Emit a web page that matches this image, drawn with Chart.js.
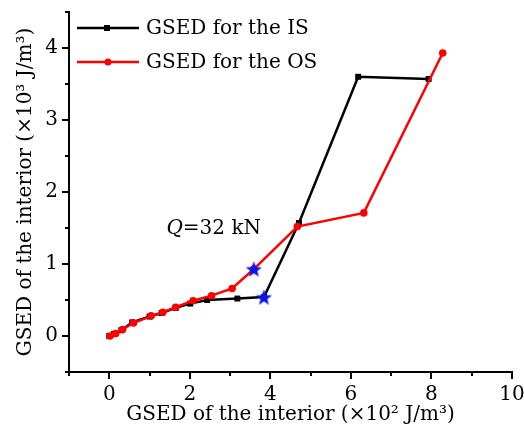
<!DOCTYPE html>
<html>
<head>
<meta charset="utf-8">
<script src="https://cdn.jsdelivr.net/npm/chart.js@4/dist/chart.umd.min.js"></script>
<style>
  body { margin: 0; background: #fff; }
  #wrap { width: 524px; height: 435px; }
</style>
</head>
<body>
<div id="wrap"><canvas id="gsedChart" width="524" height="435"></canvas></div>
<script>
// GSED of the inner surface (IS) and outer surface (OS) vs the interior
var isX = [0, 0.12, 0.3, 0.57, 1.0, 1.3, 1.65, 2.01, 2.43, 3.18, 3.84, 4.71, 6.18, 7.93];
var isY = [0, 0.03, 0.08, 0.19, 0.27, 0.32, 0.39, 0.45, 0.50, 0.52, 0.54, 1.57, 3.60, 3.57];
var osX = [0.02, 0.16, 0.33, 0.60, 1.04, 1.33, 1.65, 2.08, 2.54, 3.05, 3.59, 4.67, 6.32, 8.28];
var osY = [0.00, 0.035, 0.09, 0.18, 0.28, 0.33, 0.40, 0.49, 0.56, 0.66, 0.93, 1.52, 1.71, 3.93];
// the Q = 32 kN state on each curve
var starIndexIS = 10;
var starIndexOS = 10;

var xTicks = [0, 2, 4, 6, 8, 10];
var yTicks = [0, 1, 2, 3, 4];

var FONT = '"DejaVu Serif", "Liberation Serif", serif';

function toPoints(xs, ys) {
  return xs.map(function (x, i) { return { x: x, y: ys[i] }; });
}

// filled five-point star used as a marker
function makeStar(size, color) {
  var c = document.createElement('canvas');
  c.width = size; c.height = size;
  var g = c.getContext('2d');
  var cx = size / 2, cy = size / 2 + 0.8, R = size / 2, r = R * 0.42;
  g.beginPath();
  for (var i = 0; i < 10; i++) {
    var rad = i % 2 === 0 ? R : r;
    var a = -Math.PI / 2 + i * Math.PI / 5;
    g.lineTo(cx + rad * Math.cos(a), cy + rad * Math.sin(a));
  }
  g.closePath();
  g.fillStyle = color;
  g.fill();
  return c;
}
var starImg = makeStar(17, '#0a14f0');

// short outward tick marks, longer on labelled values
var tickMarks = {
  id: 'tickMarks',
  afterDraw: function (chart) {
    var ctx = chart.ctx, xs = chart.scales.x, ys = chart.scales.y;
    var area = chart.chartArea;
    ctx.save();
    ctx.strokeStyle = '#000';
    ctx.lineWidth = 2;
    xs.ticks.forEach(function (t) {
      var px = Math.round(xs.getPixelForValue(t.value));
      var len = xTicks.indexOf(t.value) >= 0 ? 7 : 4;
      ctx.beginPath();
      ctx.moveTo(px, area.bottom);
      ctx.lineTo(px, area.bottom + len);
      ctx.stroke();
    });
    ys.ticks.forEach(function (t) {
      var py = Math.round(ys.getPixelForValue(t.value));
      var len = yTicks.indexOf(t.value) >= 0 ? 7 : 4;
      ctx.beginPath();
      ctx.moveTo(area.left, py);
      ctx.lineTo(area.left - len, py);
      ctx.stroke();
    });
    ctx.restore();
  }
};

// legend box in the upper left of the plot, plus the load label
var legendAndNote = {
  id: 'legendAndNote',
  afterDraw: function (chart) {
    var ctx = chart.ctx;
    var rows = [
      { label: 'GSED for the IS', color: '#000', style: 'rect', y: 28 },
      { label: 'GSED for the OS', color: '#f00', style: 'circle', y: 62 }
    ];
    ctx.save();
    rows.forEach(function (r) {
      ctx.strokeStyle = r.color;
      ctx.fillStyle = r.color;
      ctx.lineWidth = 2.5;
      ctx.beginPath();
      ctx.moveTo(77, r.y);
      ctx.lineTo(139, r.y);
      ctx.stroke();
      if (r.style === 'rect') {
        ctx.fillRect(104, r.y - 3, 6, 6);
      } else {
        ctx.beginPath();
        ctx.arc(108, r.y, 3.5, 0, Math.PI * 2);
        ctx.fill();
      }
      ctx.fillStyle = '#000';
      ctx.font = '20px ' + FONT;
      ctx.textBaseline = 'middle';
      ctx.fillText(r.label, 146, r.y + 1);
    });

    var xs = chart.scales.x, ys = chart.scales.y;
    var nx = xs.getPixelForValue(1.42), ny = ys.getPixelForValue(1.49);
    ctx.font = 'italic 20px ' + FONT;
    ctx.textBaseline = 'middle';
    ctx.fillText('Q', nx, ny);
    var qw = ctx.measureText('Q').width;
    ctx.font = '20px ' + FONT;
    ctx.fillText('=32 kN', nx + qw, ny);
    ctx.restore();
  }
};

new Chart(document.getElementById('gsedChart'), {
  type: 'line',
  data: {
    datasets: [
      {
        label: 'Q=32 kN',
        data: [
          { x: isX[starIndexIS], y: isY[starIndexIS] },
          { x: osX[starIndexOS], y: osY[starIndexOS] }
        ],
        showLine: false,
        pointStyle: starImg,
        order: 0
      },
      {
        label: 'GSED for the OS',
        data: toPoints(osX, osY),
        borderColor: '#f00',
        backgroundColor: '#f00',
        borderWidth: 2.5,
        pointStyle: 'circle',
        pointRadius: 3.8,
        pointBorderWidth: 0,
        tension: 0,
        order: 1
      },
      {
        label: 'GSED for the IS',
        data: toPoints(isX, isY),
        borderColor: '#000',
        backgroundColor: '#000',
        borderWidth: 2.5,
        pointStyle: 'rect',
        pointRadius: 4.2,
        pointBorderWidth: 0,
        tension: 0,
        order: 2
      }
    ]
  },
  options: {
    responsive: false,
    animation: false,
    layout: { padding: 0 },
    plugins: {
      legend: { display: false },
      tooltip: { enabled: false }
    },
    scales: {
      x: {
        type: 'linear',
        min: -1,
        max: 10,
        afterFit: function (s) {
          s.height = 63;
          s.paddingLeft = 0;
          s.paddingRight = 12;
        },
        grid: { display: false },
        border: { display: true, color: '#000', width: 2 },
        ticks: {
          stepSize: 1,
          color: '#000',
          font: { family: FONT, size: 20 },
          padding: 3,
          maxRotation: 0,
          autoSkip: false,
          callback: function (v) { return xTicks.indexOf(v) >= 0 ? String(v) : ''; }
        },
        title: {
          display: true,
          text: 'GSED of the interior (×10² J/m³)',
          color: '#000',
          font: { family: FONT, size: 20 },
          padding: { top: 0, bottom: 8 }
        }
      },
      y: {
        type: 'linear',
        min: -0.5,
        max: 4.5,
        afterFit: function (s) {
          s.width = 69;
          s.paddingTop = 12;
          s.paddingBottom = 0;
        },
        grid: { display: false },
        border: { display: true, color: '#000', width: 2 },
        ticks: {
          stepSize: 0.5,
          color: '#000',
          font: { family: FONT, size: 20 },
          padding: 3,
          autoSkip: false,
          callback: function (v) { return yTicks.indexOf(v) >= 0 ? String(v) : ''; }
        },
        title: {
          display: true,
          text: 'GSED of the interior (×10³ J/m³)',
          color: '#000',
          font: { family: FONT, size: 20 },
          padding: { top: 14, bottom: 0 }
        }
      }
    }
  },
  plugins: [tickMarks, legendAndNote]
});
</script>
</body>
</html>
